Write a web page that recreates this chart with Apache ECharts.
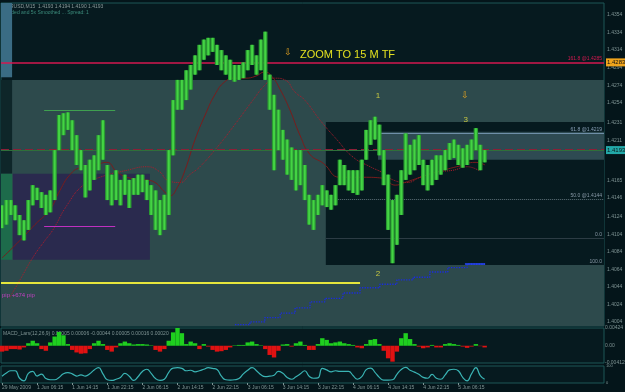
<!DOCTYPE html>
<html><head><meta charset="utf-8">
<script src="https://cdn.jsdelivr.net/npm/echarts@6/dist/echarts.min.js"></script>
<style>html,body{margin:0;padding:0;background:#04151a;}#c{width:625px;height:392px;}</style>
</head><body><div id="c"></div><script>
// ---- data (x unit = trading hour, 4 x M15 bars) ----
const xTickHours = [0,8,16,24,32,40,48,56,64,72,80,88,96,104];
const xTickLabels = ["29 May 2009","1 Jun 06:15","1 Jun 14:15","1 Jun 22:15","2 Jun 06:15","2 Jun 14:15","2 Jun 22:15","3 Jun 06:15","3 Jun 14:15","3 Jun 22:15","4 Jun 06:15","4 Jun 14:15","4 Jun 22:15","5 Jun 06:15"];
const priceTickLabels = [1.4354,1.4334,1.4314,1.4294,1.4274,1.4254,1.4231,1.4211,1.4165,1.4146,1.4124,1.4104,1.4084,1.4064,1.4044,1.4024,1.4004];
const macdTickLabels = [0.00424, 0, -0.00412];
const oscTickLabels = [100, 80, 20, 0];

const priceHigh = [1.4137,1.4143,1.4143,1.4137,1.4126,1.4120,1.4143,1.4160,1.4157,1.4152,
1.4149,1.4154,1.4200,1.4240,1.4242,1.4243,1.4234,1.4217,1.4200,1.4183,
1.4189,1.4194,1.4217,1.4234,1.4183,1.4172,1.4177,1.4166,1.4172,1.4166,
1.4168,1.4172,1.4172,1.4166,1.4160,1.4154,1.4143,1.4149,1.4200,1.4257,
1.4280,1.4280,1.4291,1.4297,1.4308,1.4320,1.4326,1.4328,1.4328,1.4320,
1.4314,1.4308,1.4303,1.4297,1.4297,1.4300,1.4314,1.4320,1.4308,1.4326,
1.4335,1.4286,1.4263,1.4246,1.4223,1.4212,1.4203,1.4200,1.4200,1.4183,
1.4149,1.4143,1.4149,1.4160,1.4154,1.4149,1.4160,1.4189,1.4183,1.4177,
1.4177,1.4177,1.4189,1.4223,1.4234,1.4238,1.4229,1.4200,1.4172,1.4143,
1.4149,1.4177,1.4219,1.4206,1.4212,1.4217,1.4189,1.4183,1.4189,1.4194,
1.4194,1.4200,1.4208,1.4212,1.4206,1.4202,1.4206,1.4212,1.4225,1.4206,
1.4200];
const priceLow = [1.4111,1.4115,1.4126,1.4120,1.4103,1.4097,1.4109,1.4137,1.4143,1.4134,
1.4126,1.4129,1.4143,1.4200,1.4217,1.4223,1.4200,1.4183,1.4177,1.4146,
1.4154,1.4166,1.4177,1.4189,1.4143,1.4137,1.4143,1.4137,1.4149,1.4134,
1.4149,1.4149,1.4152,1.4143,1.4126,1.4109,1.4103,1.4109,1.4126,1.4194,
1.4246,1.4246,1.4257,1.4269,1.4286,1.4291,1.4303,1.4308,1.4312,1.4297,
1.4291,1.4286,1.4280,1.4278,1.4280,1.4282,1.4291,1.4297,1.4286,1.4291,
1.4280,1.4246,1.4177,1.4200,1.4189,1.4172,1.4166,1.4154,1.4160,1.4143,
1.4115,1.4109,1.4126,1.4137,1.4135,1.4132,1.4137,1.4160,1.4160,1.4154,
1.4151,1.4149,1.4154,1.4189,1.4206,1.4212,1.4194,1.4160,1.4109,1.4071,
1.4092,1.4126,1.4166,1.4172,1.4177,1.4183,1.4160,1.4154,1.4160,1.4166,
1.4172,1.4177,1.4189,1.4191,1.4183,1.4180,1.4183,1.4189,1.4200,1.4177,
1.4186];
const maFast = [[0,1.4077],[4.1,1.4097],[7.5,1.4115],[10.9,1.4132],[13.2,1.4154],[15.5,1.4172],[17.8,1.4180],[21.2,1.4183],[23.9,1.4186],[26.2,1.4175],[29.2,1.4168],[32.6,1.4166],[34.9,1.4163],[37.1,1.4152],[38.3,1.4148],[39.9,1.4157],[41.7,1.4177],[44,1.4212],[46.3,1.4240],[48.5,1.4263],[50.8,1.4278],[53.1,1.4282],[55.4,1.4282],[57.7,1.4284],[59.9,1.4289],[61.5,1.4284],[63.4,1.4269],[65.6,1.4246],[67.9,1.4217],[70.2,1.4195],[73.2,1.4185],[77,1.4169],[82.3,1.4169],[86.8,1.4168],[89.6,1.4160],[91.8,1.4163],[95.3,1.4169],[99.1,1.4175],[104.4,1.4182],[107.8,1.4186],[110.1,1.4183]];
const maSlow = [[1.8,1.4032],[4.1,1.4052],[7.1,1.4078],[9.8,1.4097],[11.6,1.4109],[14.8,1.4137],[18.5,1.4160],[22.3,1.4169],[28.5,1.4177],[33,1.4181],[36,1.4175],[37.6,1.4166],[40.6,1.4163],[42.8,1.4172],[45.1,1.4181],[49,1.4203],[52.6,1.4226],[57.2,1.4257],[59.9,1.4274],[62.2,1.4282],[64.5,1.4280],[66.8,1.4266],[69,1.4257],[72.5,1.4234],[76.3,1.4212],[80,1.4192],[83.9,1.4181],[86.8,1.4174],[89.1,1.4166],[92.3,1.4163],[95.3,1.4169],[99.1,1.4175],[102.8,1.4177],[106,1.4181],[108.9,1.4176]];
const stepLine = [[53.1,1.4001],[56.5,1.4004],[59.9,1.4009],[63.4,1.4014],[66.8,1.4020],[70.2,1.4027],[73.6,1.4031],[77.7,1.4037],[81.6,1.4043],[86.1,1.4047],[90,1.4052],[93.7,1.4055],[97.5,1.4061],[101.6,1.4066],[106,1.4070],[110.1,1.4070]];
const macd = [-0.0014,-0.0012,-0.0008,-0.0008,-0.0009,-0.0004,0.0006,0.0012,0.0006,-0.0008,
-0.0012,0.0008,0.0022,0.0033,0.0025,0.0004,-0.0010,-0.0016,-0.0019,-0.0018,
-0.0008,0.0006,0.0012,0.0004,-0.0010,-0.0014,-0.0004,0.0006,0.0010,0.0006,
0.0003,0.0004,0.0004,0.0003,0.0001,-0.0010,-0.0014,-0.0008,0.0012,0.0032,
0.0045,0.0030,0.0004,0.0010,0.0006,-0.0008,0.0004,-0.0002,-0.0010,-0.0014,
-0.0013,-0.0010,-0.0004,0.0001,0.0002,0.0002,0.0008,0.0010,0.0004,0.0001,
-0.0008,-0.0022,-0.0028,-0.0012,0.0003,0.0004,-0.0002,0.0006,0.0010,0.0002,
-0.0010,-0.0010,0.0004,0.0018,0.0014,0.0006,0.0008,0.0010,0.0006,0.0004,
0.0002,-0.0004,-0.0006,0.0004,0.0014,0.0016,0.0004,-0.0012,-0.0030,-0.0038,
-0.0014,0.0018,0.0030,0.0016,0.0004,-0.0002,-0.0006,-0.0004,0.0002,-0.0004,
-0.0004,0.0004,0.0006,0.0004,0.0002,-0.0002,-0.0005,-0.0002,0.0004,-0.0001,
-0.0004];
const osc = [40,59,72,72,28,13,57,68,41,52,
26,19,19,33,54,61,54,41,48,41,
54,77,90,54,19,15,22,33,57,40,
15,37,68,81,57,26,15,22,63,88,
90,86,72,75,66,72,81,90,86,79,
40,19,17,19,26,54,75,90,72,48,
37,40,46,68,57,33,22,37,54,72,
40,28,30,86,77,66,72,68,68,68,
44,22,37,79,88,63,33,17,17,19,
51,79,92,75,64,51,33,28,51,28,
22,48,77,81,72,33,13,54,90,44,
22];

// ---- chart ----
const X0 = -0.23, X1 = 137.2, PMIN = 1.39994, PMAX = 1.43677;
const font = "'Liberation Sans', 'DejaVu Sans', sans-serif";
const axLab = {color:'#7f9494', fontSize:5, fontFamily:font, margin:3, hideOverlap:false, showMinLabel:true, showMaxLabel:true};
const chart = echarts.init(document.getElementById('c'));
const hl = priceHigh.map((h,i)=>[i, priceLow[i], h]);

function hline(v, color, type, width, lab){
  const o = {yAxis:v, lineStyle:{color, type, width}, label:{show:false}};
  if(lab) o.label = Object.assign({show:true, fontSize:5, fontFamily:font, distance:[2,1]}, lab);
  return o;
}
function seg(h0,h1,v,color,type,width,lab){
  const a = {coord:[h0,v], lineStyle:{color,type,width}, label:{show:false}};
  if(lab) a.label = Object.assign({show:true, fontSize:5, fontFamily:font, distance:[2,1]}, lab);
  return [a,{coord:[h1,v]}];
}
function box(h0,h1,p0,p1,color){ return [{coord:[h0,p0], itemStyle:{color}},{coord:[h1,p1]}]; }
function note(h,p,text,color,size,pos){
  return {coord:[h,p], symbol:'circle', symbolSize:0, label:{show:true, formatter:text, color, fontSize:size, fontFamily:font, position:pos||'inside', distance:0}};
}
const gridBase = {left:1, right:21, show:true, backgroundColor:'#061a1f', borderColor:'#1c5656', borderWidth:1, containLabel:false, outerBoundsMode:'none'};

chart.setOption({
  backgroundColor:'#04151a',
  animation:false,
  grid:[
    Object.assign({top:3, height:323}, gridBase),
    Object.assign({top:328, height:35}, gridBase),
    Object.assign({top:366, height:17}, gridBase)
  ],
  xAxis:[
    {type:'value', gridIndex:0, min:X0, max:X1, show:false},
    {type:'value', gridIndex:1, min:X0, max:X1, show:false},
    {type:'value', gridIndex:2, min:X0, max:X1, splitLine:{show:false}, axisLine:{show:false},
     axisTick:{show:true, customValues:xTickHours, length:2, lineStyle:{color:'#7f9494'}},
     axisLabel:Object.assign({}, axLab, {customValues:xTickHours, align:'left', margin:2, formatter:v=>xTickLabels[xTickHours.indexOf(v)]})}
  ],
  yAxis:[
    {type:'value', gridIndex:0, position:'right', min:PMIN, max:PMAX, splitLine:{show:false}, axisLine:{show:false},
     axisTick:{show:true, customValues:priceTickLabels, length:2, lineStyle:{color:'#7f9494'}},
     axisLabel:Object.assign({}, axLab, {customValues:priceTickLabels, formatter:v=>v.toFixed(4)})},
    {type:'value', gridIndex:1, position:'right', min:-0.00412, max:0.00424, splitLine:{show:false}, axisLine:{show:false},
     axisTick:{show:false},
     axisLabel:Object.assign({}, axLab, {customValues:macdTickLabels, margin:1, formatter:v=>v===0?'0.00':v.toFixed(5)})},
    {type:'value', gridIndex:2, position:'right', min:0, max:100, splitLine:{show:false}, axisLine:{show:false},
     axisTick:{show:false},
     axisLabel:Object.assign({}, axLab, {fontSize:4, customValues:oscTickLabels, margin:2})}
  ],
  series:[
    {name:'zones', type:'line', data:[], z:1, markArea:{silent:true, data:[
      box(X0,X1,1.4280,PMIN,'#2d4a4c'),
      box(73.8,X1,1.4232,1.4069,'#061a1f'),
      box(85.7,X1,1.4221,1.4189,'#2e4a52'),
      box(2.5,33.7,1.4173,1.4075,'#2a2a4e'),
      box(X0,2.3,PMAX,1.4283,'#3a6c84'),
      box(X0,2.3,1.4280,1.4173,'#0e2629'),
      box(X0,2.3,1.4173,1.4075,'#1d6b4b')
    ]}},
    {name:'levels', type:'line', data:[], z:2, markLine:{silent:true, symbol:['none','none'], data:[
      hline(1.4283,'#d41850','solid',1.5,{position:'end', formatter:'1.4283', fontSize:6, color:'#101010', backgroundColor:'#f0a41c', padding:[1,1,1,1], distance:2}),
      hline(1.4284,'rgba(0,0,0,0)','solid',1,{position:'insideEndTop', formatter:'161.8 @1.4285', color:'#d41850'}),
      hline(1.4230,'#8a2038','dashed',2),
      seg(85.7,X1,1.4219,'#6f8fa8','solid',1,{position:'insideEndTop', formatter:'61.8 @1.4219', color:'#8aa0b8'}),
      hline(1.4201,'#3f9a4f','dashed',1),
      hline(1.4192,'#0b1414','dashed',1,{position:'end', formatter:'1.4193', fontSize:6, color:'#0a1a1a', backgroundColor:'#22a8a8', padding:[1,1,1,1], distance:2}),
      hline(1.4187,'#2f6f3a','solid',1),
      seg(73.8,X1,1.4144,'#5d7078','dotted',1,{position:'insideEndTop', formatter:'50.0 @1.4144', color:'#8a9aa8'}),
      seg(73.8,X1,1.4100,'#2c3c44','solid',1,{position:'insideEndTop', formatter:'0.0', color:'#8a9aa8'}),
      seg(73.8,X1,1.4069,'rgba(0,0,0,0)','solid',1,{position:'insideEndTop', formatter:'100.0', color:'#8a9aa8'}),
      seg(X0,81.6,1.4049,'#e6e63c','solid',2),
      seg(9.6,25.8,1.4245,'#3fa050','solid',1),
      seg(9.6,25.8,1.4113,'#c030c0','solid',1),
      seg(105.5,110.1,1.4070,'#2848ff','solid',1.5)
    ]}},
    {name:'MA slow', type:'line', data:maSlow, z:3, symbol:'none', smooth:true, lineStyle:{color:'#b01c2c', width:1, type:'dotted'}},
    {name:'MA fast', type:'line', data:maFast, z:3, symbol:'none', smooth:true, lineStyle:{color:'#7a1c1c', width:1}},
    {name:'steps', type:'line', data:stepLine, step:'end', z:3, symbol:'none', lineStyle:{color:'#1a2ce0', width:1.3, type:'dotted'}},
    {name:'price', type:'custom', data:hl, z:5, clip:true,
     renderItem:(params, api)=>{
       const h = api.value(0), lo = api.value(1), hi = api.value(2);
       const a = api.coord([h, hi]), b = api.coord([h, lo]);
       const w = api.size([1,0])[0];
       const ht = Math.max(1, b[1]-a[1]);
       return {type:'group', children:[
         {type:'rect', shape:{x:a[0]-w/2, y:a[1], width:w, height:ht}, style:{fill:'#2a9a32'}},
         {type:'rect', shape:{x:a[0]-1, y:a[1], width:2, height:ht}, style:{fill:'#44d444'}}
       ]};
     }},
    {name:'notes', type:'scatter', data:[], z:6, markPoint:{silent:true, data:[
      note(67.9,1.4308,'ZOOM TO 15 M TF','#e2e020',11,'right'),
      note(65.2,1.4311,'⇩','#e0a020',9),
      note(105.5,1.4262,'⇩','#e0a020',9),
      note(85.7,1.4262,'1','#c8c840',8),
      note(85.7,1.4059,'2','#c8c840',8),
      note(105.7,1.4234,'3','#c8c840',8),
      note(0,1.4034,'pip +674 pip','#c040c0',6,'right')
    ]}},
    {name:'MACD', type:'bar', xAxisIndex:1, yAxisIndex:1, data:macd.map((v,i)=>[i,v]), barWidth:4.4,
     itemStyle:{color:p=>p.value[1]>=0?'#1fcf1f':'#e01212'}},
    {name:'osc', type:'line', xAxisIndex:2, yAxisIndex:2, data:osc.map((v,i)=>[i,v]), symbol:'none', smooth:true,
     lineStyle:{color:'#3ab4b4', width:1.2}}
  ],
  graphic:[
    {type:'text', left:3, top:4, style:{text:'EURUSD,M15  1.4193 1.4194 1.4190 1.4193', fill:'#8a9a9a', font:'5px '+font}},
    {type:'text', left:3, top:10, style:{text:'Loaded and 5x Smoothed ... Spread: 1', fill:'#3c8c7c', font:'5px '+font}},
    {type:'text', left:3, top:331, style:{text:'MACD_Lars(12,26,9) 0.00005 0.00006 -0.00044 0.00005 0.00016 0.00020', fill:'#7f9494', font:'5px '+font}}
  ]
});
</script></body></html>
